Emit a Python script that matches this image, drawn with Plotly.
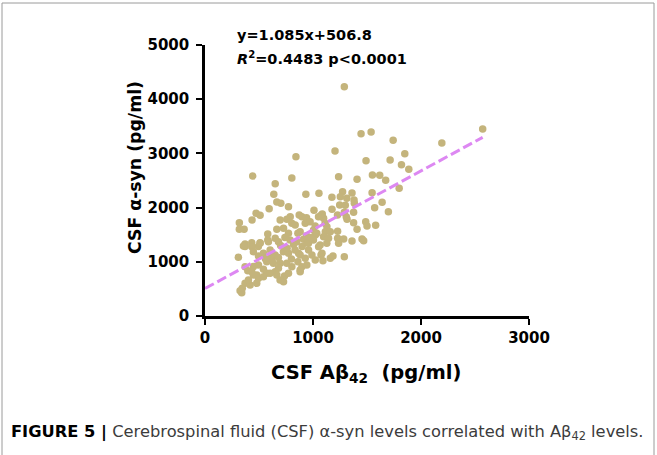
import plotly.graph_objects as go

# CSF Abeta42 (x) and CSF alpha-syn (y), pg/ml
ab42 = [
    1290, 1445, 1538, 1742, 1204, 842, 1850, 1491, 1714, 1819, 1887, 442,
    804, 1237, 1408, 1550, 1618, 1673, 650, 1798, 637, 934, 1055, 1274,
    1253, 1361, 1547, 1175, 1313, 1380, 2571, 2193,
    1640, 1247, 1299, 1383, 1571, 1698, 1176, 1290, 1376, 1086, 1098, 1315,
    1308, 1376, 1488, 1500, 1580, 1408, 1129, 1114, 1160, 1228, 1098, 1144,
    1228, 1284, 1361, 1454, 1469, 1237,
    1092, 1160, 1185, 1290, 1074,
    665, 702, 773, 594, 473, 510, 1009, 872, 897, 318, 436, 696,
    758, 789, 940, 928, 1077, 318, 362, 665, 804, 835, 727, 773,
    581, 860, 1005, 1021, 371, 433, 510, 581, 650, 680,
    371, 494, 788, 850, 912, 958, 1004, 1066, 1128, 881, 973, 1020,
    1112, 1051, 1227, 1035, 940,
    309, 495, 371, 396, 433, 495, 541, 572, 480, 495, 371, 418,
    325, 340, 650, 665, 727, 736, 619, 696, 804, 897, 928, 866,
    959, 990, 1052, 1083, 1021, 356, 433, 510, 587,
    448, 541, 603, 649, 726, 773, 834, 881,
    448, 572, 633, 680, 757, 881, 943,
    402, 479, 448, 541, 603, 695, 773, 881, 345,
    700, 760, 820, 900, 950, 680, 800, 860, 610, 740, 980, 560,
]
asyn = [
    4230, 3364, 3395, 3241, 3044, 2939, 2994, 2865, 2878, 2792, 2707, 2583,
    2546, 2570, 2522, 2601, 2596, 2504, 2441, 2356, 2245, 2245, 2264, 2293,
    2200, 2269, 2275, 2190, 2171, 2140, 3450, 3192,
    2098, 2048, 2042, 2079, 1998, 1924, 1968, 1913, 1913, 1882, 1802, 1784,
    1832, 1721, 1740, 1660, 1673, 1600, 1648, 1556, 1556, 1562, 1463, 1433,
    1433, 1421, 1384, 1421, 1390, 1341,
    1020, 1065, 1107, 1094, 1125,
    2103, 2079, 2017, 1980, 1895, 1858, 1950, 1863, 1832, 1721, 1771, 1771,
    1784, 1832, 1814, 1710, 1863, 1600, 1600, 1600, 1710, 1679, 1618, 1526,
    1513, 1526, 1587, 1494, 1328, 1353, 1353, 1402, 1433, 1371,
    1280, 1280, 1403, 1372, 1415, 1341, 1403, 1310, 1341, 1556, 1741, 1661,
    1710, 1833, 1864, 1525, 1480,
    1083, 1107, 910, 836, 817, 941, 861, 788, 756, 696, 603, 572,
    467, 430, 817, 756, 633, 738, 1033, 972, 910, 910, 1065, 1157,
    1218, 1125, 1279, 1157, 1033, 1291, 1279, 1341, 1371,
    1187, 1157, 1218, 1126, 1187, 1157, 1218, 1126,
    911, 1003, 972, 880, 972, 849, 941,
    665, 603, 757, 726, 787, 665, 787, 818, 511,
    1300, 1250, 1320, 1280, 1350, 1080, 1050, 1000, 1120, 1450, 1450, 1050,
]

# linear fit reported on the figure
FIT_SLOPE = 1.085
FIT_INTERCEPT = 506.8
fit_x = [0, max(ab42)]
fit_y = [FIT_SLOPE * v + FIT_INTERCEPT for v in fit_x]

x_ticks = [0, 1000, 2000, 3000]
y_ticks = [0, 1000, 2000, 3000, 4000, 5000]

FONT = "DejaVu Sans, sans-serif"

# plot area in pixels (reference): x 205..529, y 45..316
L, R, T, B = 205, 128, 45, 139
PW, PH = 657 - L - R, 455 - T - B


def px(x):
    return (x - L) / PW


def py(y):
    return (455 - B - y) / PH


fig = go.Figure()

fig.add_trace(go.Scatter(
    x=ab42, y=asyn, mode="markers",
    marker=dict(size=7.5, color="#C4B47C", line=dict(width=0)),
    cliponaxis=False, hoverinfo="x+y",
))

fig.add_trace(go.Scatter(
    x=fit_x, y=fit_y, mode="lines",
    line=dict(color="#DD88F2", width=3, dash="10px,4px"),
    cliponaxis=False, hoverinfo="skip",
))

axis_common = dict(
    showgrid=False, zeroline=False, showline=True,
    linecolor="black", linewidth=2.5,
    ticks="outside", ticklen=6, tickwidth=2, tickcolor="black",
    tickfont=dict(family=FONT, size=15, color="black", weight="bold"),
)

fig.update_xaxes(range=[0, 3000], tickvals=x_ticks, **axis_common)
fig.update_yaxes(range=[0, 5000], tickvals=y_ticks, ticklabelstandoff=4, **axis_common)

bold = dict(family=FONT, weight="bold", color="black")
annotations = [
    dict(text="CSF α-syn (pg/ml)", x=px(135), y=py(168), textangle=-90,
         font=dict(size=17.3, **bold)),
    dict(text="CSF Aβ<sub>42</sub>  (pg/ml)", x=px(366), y=py(373),
         font=dict(size=19.5, **bold)),
    dict(text="y=1.085x+506.8", x=px(235), y=py(35), xanchor="left",
         font=dict(size=14.5, **bold)),
    dict(text="<i>R</i><sup>2</sup>=0.4483 p&lt;0.0001", x=px(235), y=py(58), xanchor="left",
         font=dict(size=14.5, **bold)),
    dict(text="<b>FIGURE 5 |</b><span style='color:#3c3c3c'> Cerebrospinal fluid (CSF) α-syn levels "
              "correlated with Aβ<sub>42</sub> levels.</span>",
         x=px(9), y=py(432), xanchor="left",
         font=dict(family=FONT, size=16.3, color="black")),
]
for a in annotations:
    a.setdefault("xanchor", "center")
    a.update(xref="paper", yref="paper", yanchor="middle", showarrow=False)

fig.update_layout(
    width=657, height=455,
    margin=dict(l=L, r=R, t=T, b=B),
    paper_bgcolor="white", plot_bgcolor="white",
    showlegend=False,
    annotations=annotations,
    shapes=[dict(type="rect", xref="paper", yref="paper",
                 x0=px(2), x1=px(654), y0=py(470), y1=py(3),
                 line=dict(color="#9a9a9a", width=1))],
)

# page body margin off so the figure sits at the window's top-left corner
fig.write_html("out.html", config={"displayModeBar": False},
               post_script="document.body.style.margin='0';")
